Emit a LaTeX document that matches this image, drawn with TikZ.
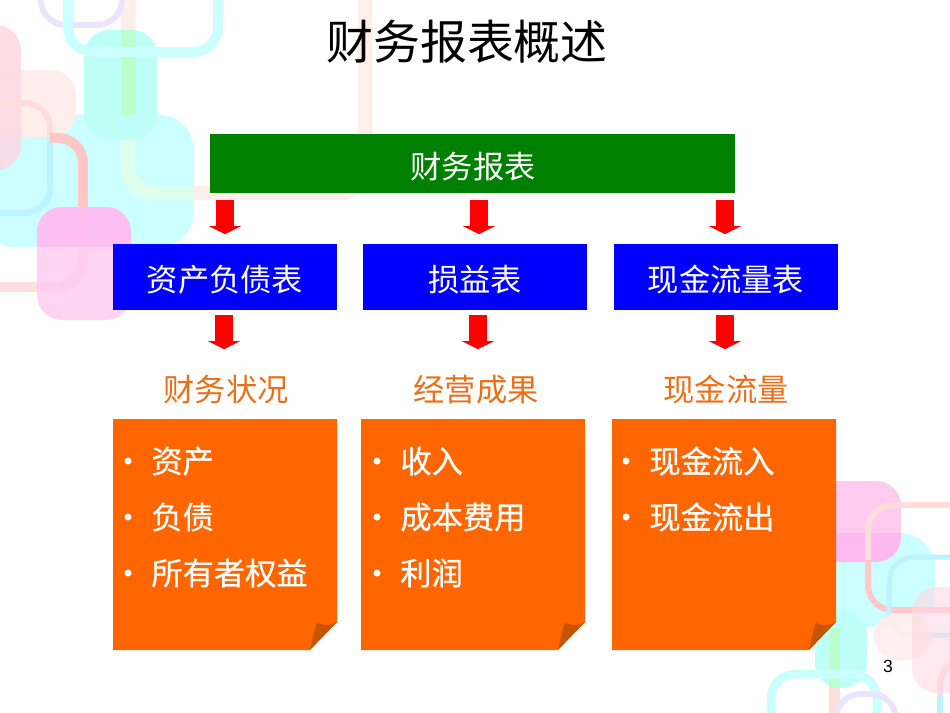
\documentclass[tikz,border=0pt]{standalone}
\usepackage{fontspec}
\setmainfont{Noto Sans CJK SC}
\newfontfamily\latinsans{Liberation Sans}
\newfontfamily\itemfont[FakeBold=0.6]{Noto Sans CJK SC}
\usetikzlibrary{shapes.arrows}
\definecolor{boxgreen}{HTML}{008000}
\definecolor{boxblue}{HTML}{0000FF}
\definecolor{boxorange}{HTML}{FF6600}
\definecolor{foldorange}{HTML}{C65500}
\definecolor{labelorange}{HTML}{E8701A}
\definecolor{decocyan}{HTML}{CCFFFF}
\definecolor{decoteal}{HTML}{BEFFF8}
\definecolor{decosalmon}{HTML}{FFC8C6}
\definecolor{decoblush}{HTML}{FFDDDC}
\definecolor{decopale}{HTML}{FFEEEC}
\definecolor{decorose}{HTML}{FFD8E4}
\definecolor{decomagenta}{HTML}{FFCCF0}
\definecolor{decohot}{HTML}{FFBAF2}
\definecolor{decolilac}{HTML}{EAE4FF}
\definecolor{decomint}{HTML}{DCFFEE}
\definecolor{decolime}{HTML}{BCFFCC}
\definecolor{decosky}{HTML}{BBF4FF}
\tikzset{
  headbox/.style={fill=#1,text=white,font=\fontsize{17.8}{20}\selectfont,inner sep=0pt},
  fatarrow/.style={single arrow,fill=red,rotate=-90,minimum height=0.68cm,inner xsep=0pt,inner ysep=0.17cm,
    single arrow head extend=0.15cm,single arrow tip angle=127},
  sublabel/.style={text=labelorange,font=\fontsize{17.8}{20}\selectfont},
  itemtext/.style={anchor=west,text=white,font=\itemfont\fontsize{17.8}{20}\selectfont,inner sep=0pt},
  itemdot/.style={circle,fill=white,minimum size=0.14cm,inner sep=0pt},
  blob/.style={fill=#1,rounded corners=0.5cm},
  frameline/.style={draw=#1,line width=0.12cm,rounded corners=0.5cm},
}
% paper sheet with its lower right corner turned up
\newcommand{\foldsheet}[2]{
  \fill[boxorange] (#1,419) -- (#1+224,419) -- (#1+224,622) -- (#1+197,650) -- (#1,650) -- cycle;
  \fill[foldorange] (#1+197,650) .. controls (#1+199,640) and (#1+201,632) .. (#1+204,623)
    .. controls (#1+210,626) and (#1+218,626) .. (#1+224,622) -- cycle;
  \coordinate (#2) at (#1+112,534);
}
\begin{document}
\begin{tikzpicture}[x=0.02cm,y=-0.02cm]
  \useasboundingbox (0,0) rectangle (950,713);
  \begin{scope}
    \clip (0,0) rectangle (950,713);
    % upper left decoration
    \draw[frameline=decopale,line width=0.3cm] (128,-10) -- (128,193) -- (365,193) -- (365,-10);
    \fill[blob=decocyan,rounded corners=0.7cm] (-20,115) rectangle (194,247);
    \begin{scope}
      \clip (-20,115) rectangle (194,247);
      \draw[frameline=decomint,line width=0.3cm] (128,-10) -- (128,193) -- (365,193);
    \end{scope}
    \fill[blob=decopale] (-30,70) rectangle (76,137);
    \fill[blob=decorose,fill opacity=0.85] (-30,25) rectangle (21,170);
    \fill[blob=decoteal] (84,30) rectangle (157,140);
    \fill[decolime] (121,30) rectangle (136,115);
    \draw[frameline=decolilac] (41,-30) rectangle (122,25);
    \draw[frameline=decocyan,line width=0.2cm] (68,-30) rectangle (218,52);
    \draw[frameline=decoblush] (-30,103) -- (50,103) -- (50,137);
    \draw[frameline=decosky] (50,137) -- (50,213) -- (-30,213);
    \draw[frameline=decosalmon,line width=0.2cm] (50,138) -- (83,138) -- (83,230);
    \draw[frameline=decoblush,line width=0.2cm] (83,230) -- (83,287) -- (-10,287);
    \fill[blob=decomagenta,fill opacity=0.85] (37,207) rectangle (131,320);
    \begin{scope}
      \clip[rounded corners=0.5cm] (37,207) rectangle (131,320);
      \fill[decohot,opacity=0.8] (37,207) rectangle (131,247);
    \end{scope}
    % lower right decoration
    \fill[blob=decocyan,rounded corners=0.7cm] (780,533) rectangle (935,627);
    \fill[blob=decomagenta] (800,481) rectangle (901,562);
    \begin{scope}
      \clip[rounded corners=0.5cm] (800,481) rectangle (901,562);
      \fill[decohot] (800,533) rectangle (901,562);
    \end{scope}
    \draw[frameline=decoblush] (960,505) -- (868,505) -- (868,560);
    \draw[frameline=decosalmon] (868,560) -- (868,610) -- (960,610);
    \draw[frameline=decosky,line width=0.1cm] (960,557) -- (889,557) -- (889,635) -- (960,635);
    \fill[blob=decopale,fill opacity=0.9] (873,613) rectangle (930,660);
    \fill[blob=decorose,fill opacity=0.6] (912,587) rectangle (970,693);
    \fill[blob=decoteal] (815,610) rectangle (867,688);
    \fill[decolime] (829,628) rectangle (840,688);
    \fill[decoblush] (829,688) rectangle (840,720);
    \draw[frameline=decocyan,line width=0.18cm] (771,720) -- (771,674) -- (877,674) -- (877,720);
    \draw[frameline=decolilac] (836,720) -- (836,694) -- (896,694) -- (896,720);
    \draw[frameline=decorose] (960,660) -- (940,660) -- (940,695);
    \draw[frameline=decosky] (940,695) -- (940,720);
  \end{scope}

  \node (title) at (467,42) {\fontsize{26.7}{30}\selectfont 财务报表概述};

  \fill[boxgreen] (210,134) rectangle (735,193);
  \node[headbox=boxgreen] (report) at (473,167) {财务报表};

  \foreach \x/\w/\name/\txt in {113/224/balance/资产负债表,363/224/income/损益表,614/224/cash/现金流量表} {
    \fill[boxblue] (\x,244) rectangle (\x+\w,310);
    \node[headbox=boxblue] (\name) at (\x+\w/2,280) {\txt};
  }

  \foreach \x/\y/\name in {225/215/arrowa,479/215/arrowb,725/215/arrowc,224/330/arrowd,478/330/arrowe,725/330/arrowf}
    \node[fatarrow] (\name) at (\x,\y) {};

  \node[sublabel] (position) at (226,390) {财务状况};
  \node[sublabel] (result) at (476,390) {经营成果};
  \node[sublabel] (flow) at (726,390) {现金流量};

  \foldsheet{113}{sheeta}
  \foldsheet{361}{sheetb}
  \foldsheet{612}{sheetc}

  \foreach \x/\y/\name/\txt in {
    128/461/asset/资产,128/517/debt/负债,128/573/equity/所有者权益,
    377/461/revenue/收入,377/517/cost/成本费用,377/573/profit/利润,
    626/461/inflow/现金流入,626/517/outflow/现金流出} {
    \node[itemdot] (dot\name) at (\x,\y) {};
    \node[itemtext] (\name) at (\x+23,\y) {\txt};
  }

  \node[font=\latinsans\fontsize{10}{12}\selectfont] (page) at (888,666) {3};
\end{tikzpicture}
\end{document}
